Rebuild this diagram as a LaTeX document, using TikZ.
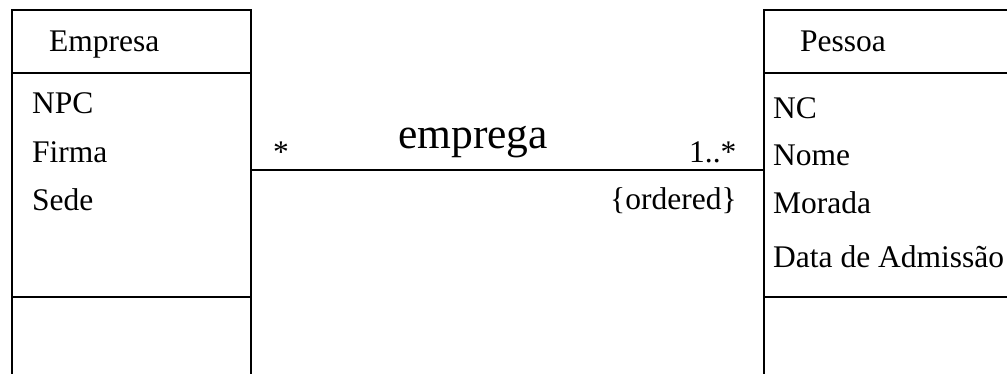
\documentclass[tikz,border=0pt]{standalone}
\usepackage{fontspec}
\setmainfont{Liberation Serif}
\begin{document}
\begin{tikzpicture}[x=1pt,y=-1pt,
  box/.style={line width=1.6pt},
  attr/.style={anchor=base west,inner sep=0pt,font=\fontsize{31.5}{31.5}\selectfont},
  big/.style={anchor=base west,inner sep=0pt,font=\fontsize{43.5}{43.5}\selectfont}]
\useasboundingbox (0,0) rectangle (1007,373);
% left class
\coordinate (LBL) at (12,375);
\coordinate (LTL) at (12,10);
\coordinate (LTR) at (251,10);
\coordinate (LBR) at (251,375);
\draw[box] (LBL) -- (LTL) -- (LTR) -- (LBR);
\coordinate (L1a) at (12,73); \coordinate (L1b) at (251,73);
\coordinate (L2a) at (12,297); \coordinate (L2b) at (251,297);
\draw[box] (L1a) -- (L1b);
\draw[box] (L2a) -- (L2b);
% right class
\coordinate (RBL) at (764,375);
\coordinate (RTL) at (764,10);
\coordinate (RTR) at (1008,10);
\draw[box] (RBL) -- (RTL) -- (RTR);
\coordinate (R1a) at (764,73); \coordinate (R1b) at (1008,73);
\coordinate (R2a) at (764,297); \coordinate (R2b) at (1008,297);
\draw[box] (R1a) -- (R1b);
\draw[box] (R2a) -- (R2b);
% texts
\node[attr] (emp) at (49,51) {Empresa};
\node[attr] (npc) at (32,113) {NPC};
\node[attr] (fir) at (32,162) {Firma};
\node[attr] (sed) at (32,210) {Sede};
\node[attr] (pes) at (800,51) {Pessoa};
\node[attr] (nc) at (773,118) {NC};
\node[attr] (nom) at (773,165) {Nome};
\node[attr] (mor) at (773,213) {Morada};
\node[attr] (dat) at (773,267) {Data de Admissão};
% association
\coordinate (A) at (251,170);
\coordinate (B) at (764,170);
\draw[box] (A) -- (B);
\node[attr] (m1) at (273,162) {*};
\node[big] (rel) at (398,148) {emprega};
\node[attr] (m2) at (689,162) {1..*};
\node[attr] (ord) at (610,209) {\{ordered\}};
\end{tikzpicture}
\end{document}
